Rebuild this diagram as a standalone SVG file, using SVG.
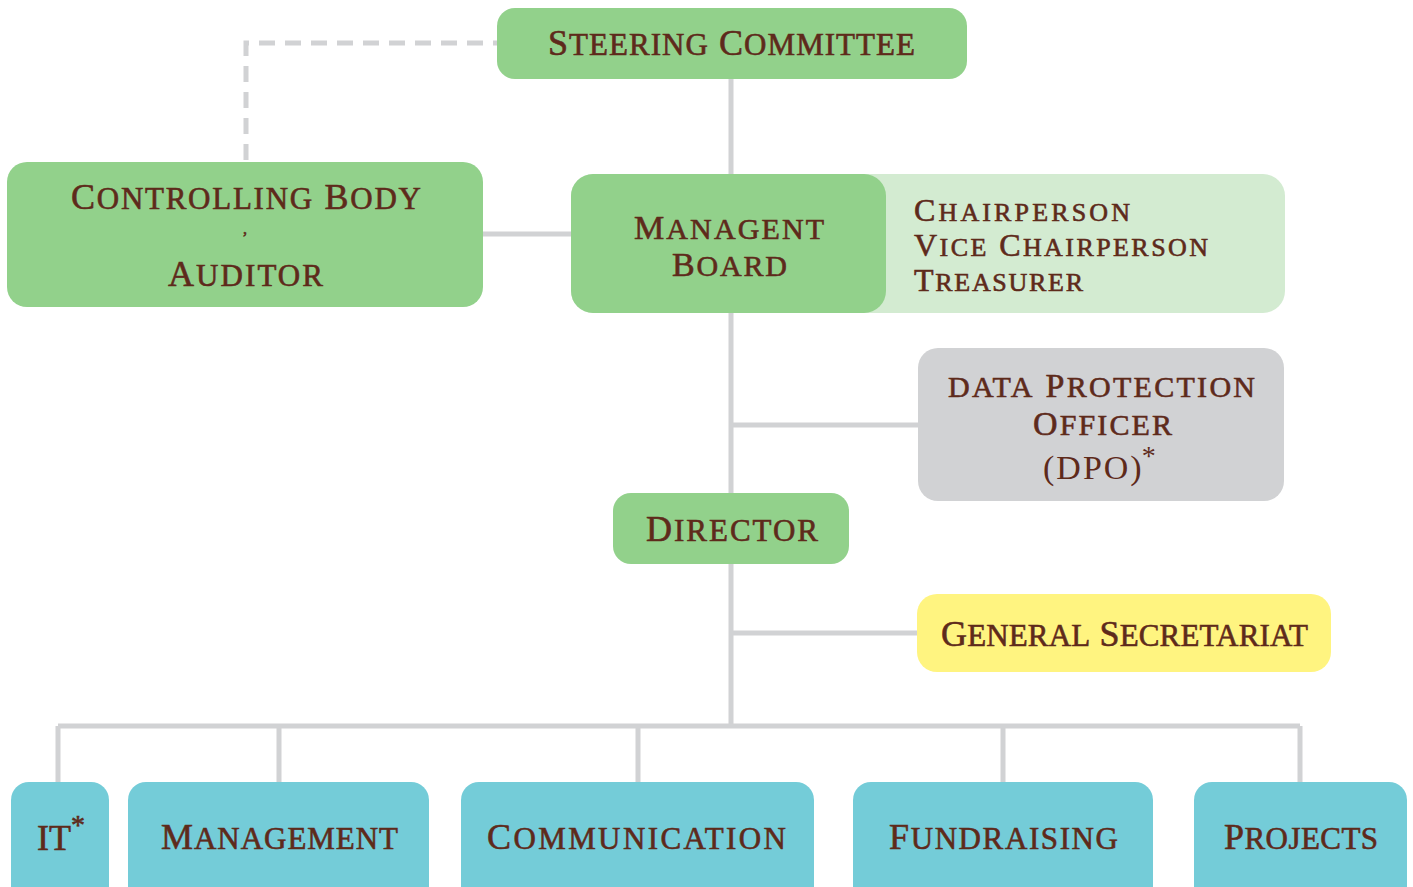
<svg xmlns="http://www.w3.org/2000/svg" width="1413" height="887" viewBox="0 0 1413 887">
<style>
text{font-family:"Liberation Serif","Times New Roman",serif;fill:#5e2a1b;stroke:#5e2a1b;stroke-width:0.6;font-variant:small-caps;font-size:36px}
.l{font-size:124%}
.c{text-anchor:middle}
.s{font-size:32px}
.sl{font-size:118%}
.m{font-size:34px}
.plain{font-variant:normal;stroke-width:0;font-size:34px;letter-spacing:2px}
.sup{font-size:28px}
.green{fill:#92d18b}
.lgreen{fill:#d3ebd1}
.grey{fill:#d1d2d4}
.yellow{fill:#fff480}
.cyan{fill:#74ccd8}
.ln{stroke:#d1d2d4;stroke-width:5;fill:none}
.dash{stroke:#d1d2d4;stroke-width:5;fill:none;stroke-dasharray:16 10}
</style>
<g id="connectors">
<path class="dash" d="M246,160 V43 H497"/>
<path class="ln" d="M731,78 V726"/>
<path class="ln" d="M483,234 H571"/>
<path class="ln" d="M731,425 H918"/>
<path class="ln" d="M731,633 H917"/>
<path class="ln" d="M58,726 H1300"/>
<path class="ln" d="M58,726 V782 M279,726 V782 M638,726 V782 M1003,726 V782 M1300,726 V782"/>
</g>
<g id="steering">
<rect class="green" x="497" y="8" width="470" height="71" rx="18"/>
<text class="c" x="731.5" y="55" textLength="367" lengthAdjust="spacing">S<tspan class="l">teering</tspan> C<tspan class="l">ommittee</tspan></text>
</g>
<g id="controlling">
<rect class="green" x="7" y="162" width="476" height="145" rx="20"/>
<text class="c" x="246" y="209" textLength="350" lengthAdjust="spacing">C<tspan class="l">ontrolling</tspan> B<tspan class="l">ody</tspan></text>
<text class="c" x="245" y="234" style="font-size:16px">,</text>
<text class="c" x="245.5" y="286" textLength="155" lengthAdjust="spacing">A<tspan class="l">uditor</tspan></text>
</g>
<g id="board">
<rect class="lgreen" x="571" y="174" width="714" height="139" rx="22"/>
<rect class="green" x="571" y="174" width="315" height="139" rx="22"/>
<text class="c m" x="729" y="239" textLength="190" lengthAdjust="spacing">M<tspan class="l">anagent</tspan></text>
<text class="c m" x="729.5" y="276" textLength="115" lengthAdjust="spacing">B<tspan class="l">oard</tspan></text>
<text class="s" x="914" y="221" textLength="216" lengthAdjust="spacing">C<tspan class="sl">hairperson</tspan></text>
<text class="s" x="914" y="256" textLength="294" lengthAdjust="spacing">V<tspan class="sl">ice</tspan> C<tspan class="sl">hairperson</tspan></text>
<text class="s" x="914" y="291" textLength="169" lengthAdjust="spacing">T<tspan class="sl">reasurer</tspan></text>
</g>
<g id="dpo">
<rect class="grey" x="918" y="348" width="366" height="153" rx="20"/>
<text class="c m" x="1101.5" y="397" textLength="307" lengthAdjust="spacing"><tspan class="l">data</tspan> P<tspan class="l">rotection</tspan></text>
<text class="c m" x="1102.5" y="435" textLength="139" lengthAdjust="spacing">O<tspan class="l">fficer</tspan></text>
<text class="plain" x="1043" y="479">(DPO)<tspan class="sup" dx="-2" dy="-14">*</tspan></text>
</g>
<g id="director">
<rect class="green" x="613" y="493" width="236" height="71" rx="18"/>
<text class="c" x="732" y="541" textLength="172" lengthAdjust="spacing">D<tspan class="l">irector</tspan></text>
</g>
<g id="secretariat">
<rect class="yellow" x="917" y="594" width="414" height="78" rx="20"/>
<text class="c" x="1124.5" y="646" textLength="367" lengthAdjust="spacing">G<tspan class="l">eneral</tspan> S<tspan class="l">ecretariat</tspan></text>
</g>
<g id="it">
<rect class="cyan" x="11" y="782" width="98" height="125" rx="18"/>
<text x="37" y="850">IT<tspan class="sup" dy="-16">*</tspan></text>
</g>
<g id="management">
<rect class="cyan" x="128" y="782" width="301" height="125" rx="18"/>
<text class="c" x="279.5" y="849" textLength="237" lengthAdjust="spacing">M<tspan class="l">anagement</tspan></text>
</g>
<g id="communication">
<rect class="cyan" x="461" y="782" width="353" height="125" rx="18"/>
<text class="c" x="636.5" y="849" textLength="299" lengthAdjust="spacing">C<tspan class="l">ommunication</tspan></text>
</g>
<g id="fundraising">
<rect class="cyan" x="853" y="782" width="300" height="125" rx="18"/>
<text class="c" x="1003.5" y="849" textLength="229" lengthAdjust="spacing">F<tspan class="l">undraising</tspan></text>
</g>
<g id="projects">
<rect class="cyan" x="1194" y="782" width="213" height="125" rx="18"/>
<text class="c" x="1301" y="849" textLength="154" lengthAdjust="spacing">P<tspan class="l">rojects</tspan></text>
</g>
</svg>
